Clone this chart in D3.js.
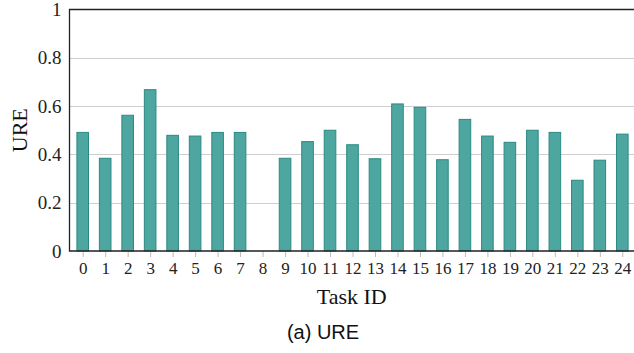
<!DOCTYPE html>
<html>
<head>
<meta charset="utf-8">
<script src="https://cdn.jsdelivr.net/npm/d3@7"></script>
<style>
html,body{margin:0;padding:0;background:#fff;}
svg{display:block;}
</style>
</head>
<body>
<svg id="chart" width="634" height="353"></svg>
<script>
const taskIds = [0,1,2,3,4,5,6,7,8,9,10,11,12,13,14,15,16,17,18,19,20,21,22,23,24];
const ureValues = [0.491,0.384,0.562,0.668,0.479,0.476,0.491,0.491,0.0,0.384,0.453,0.500,0.440,0.382,0.609,0.595,0.378,0.545,0.476,0.450,0.500,0.491,0.293,0.376,0.484];
const yTicks = [0,0.2,0.4,0.6,0.8,1];
const yTickLabels = ["0","0.2","0.4","0.6","0.8","1"];
const xLabel = "Task ID";
const yLabel = "URE";
const caption = "(a) URE";

(function () {
const svg = d3.select("#chart");
const pLeft = 69.5, pRight = 635.5, pTop = 9.5, pBottom = 251;
const x = d3.scaleLinear().domain([-0.587, 24.587]).range([pLeft, pRight]);
const y = d3.scaleLinear().domain([0, 1]).range([pBottom, pTop]);
const barW = 11.6;
const serif = "'Liberation Serif', 'Times New Roman', serif";

// gridlines
svg.append("g").selectAll("line").data(yTicks.filter(v => v > 0 && v < 1)).join("line")
  .attr("x1", pLeft).attr("x2", pRight)
  .attr("y1", d => Math.round(y(d)) + 0.5).attr("y2", d => Math.round(y(d)) + 0.5)
  .attr("stroke", "#cfcfcf").attr("stroke-width", 1);

// bars
svg.append("g").selectAll("rect").data(taskIds).join("rect")
  .attr("x", (d) => x(d) - barW / 2)
  .attr("width", barW)
  .attr("y", (d, i) => y(ureValues[i]))
  .attr("height", (d, i) => y(0) - y(ureValues[i]))
  .attr("fill", "#4ea6a0")
  .attr("stroke", "#2b8a83")
  .attr("stroke-width", 1);

// x axis
const xAxis = d3.axisBottom(x).tickValues(taskIds).tickSize(6).tickPadding(5).tickFormat(d3.format("d"));
const gx = svg.append("g").attr("transform", `translate(0,${pBottom})`).call(xAxis);
gx.select(".domain").remove();
gx.selectAll(".tick line").attr("stroke", "#bbbbbb");
gx.selectAll(".tick text").attr("font-family", serif).attr("font-size", 17).attr("fill", "#222");

// y axis
const yAxis = d3.axisLeft(y).tickValues(yTicks).tickSize(0).tickPadding(8).tickFormat((d, i) => yTickLabels[i]);
const gy = svg.append("g").attr("transform", `translate(${pLeft},0)`).call(yAxis);
gy.select(".domain").remove();
gy.selectAll(".tick text").attr("font-family", serif).attr("font-size", 19).attr("fill", "#222");

// frame
svg.append("path")
  .attr("d", `M${pRight},${pTop}H${pLeft}V${pBottom}H${pRight}`)
  .attr("fill", "none").attr("stroke", "#222").attr("stroke-width", 1.3);

// labels
svg.append("text").attr("x", (pLeft + 634) / 2).attr("y", 304)
  .attr("text-anchor", "middle").attr("font-family", serif).attr("font-size", 22).attr("fill", "#111")
  .text(xLabel);
svg.append("text").attr("transform", `translate(27,${(pTop + pBottom) / 2}) rotate(-90)`)
  .attr("text-anchor", "middle").attr("font-family", serif).attr("font-size", 22).attr("fill", "#111")
  .text(yLabel);
svg.append("text").attr("x", 323).attr("y", 339)
  .attr("text-anchor", "middle").attr("font-family", "'Liberation Sans', Arial, sans-serif").attr("font-size", 20).attr("fill", "#111")
  .text(caption);
})();
</script>
</body>
</html>
